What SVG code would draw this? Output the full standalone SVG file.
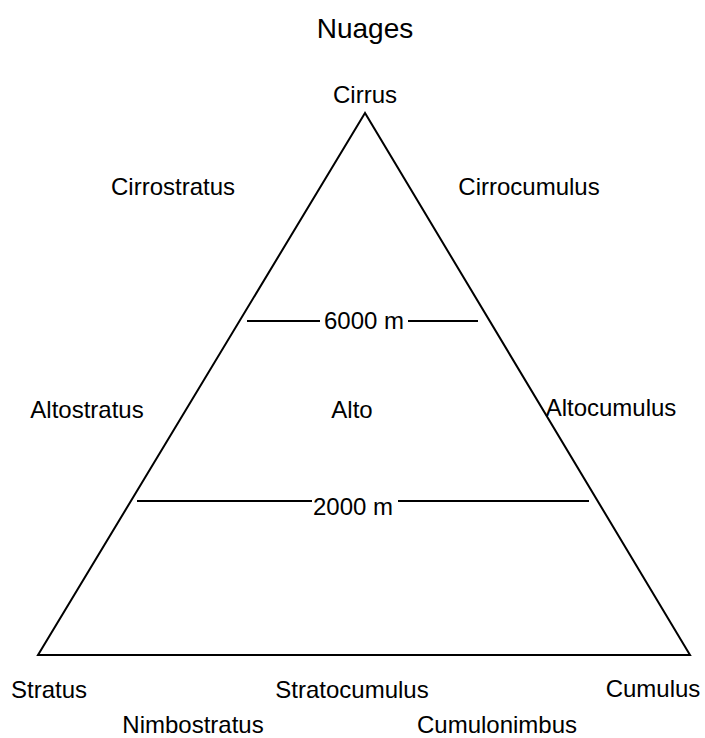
<svg xmlns="http://www.w3.org/2000/svg" width="705" height="738" viewBox="0 0 705 738">
<style>
text{font-family:"Liberation Sans",Arial,sans-serif;font-size:24px;fill:#000;text-anchor:middle}
.t{font-size:28px}
.ln{stroke:#000;stroke-width:2;fill:none}
</style>
<rect width="705" height="738" fill="#fff"/>
<text class="t" x="365" y="38">Nuages</text>
<g id="triangle"><polygon class="ln" points="365,113 38,655 690,655"/></g>
<g id="connectors">
<line class="ln" x1="247" y1="321" x2="478" y2="321"/>
<line class="ln" x1="137" y1="501" x2="589" y2="501"/>
</g>
<g id="lbl6000"><rect x="320" y="309" width="88" height="26" fill="#fff"/><text x="364" y="329">6000 m</text></g>
<g id="lbl2000"><rect x="312" y="489" width="86" height="26" fill="#fff"/><text x="353" y="515">2000 m</text></g>
<g id="cirrus"><text x="365" y="103">Cirrus</text></g>
<g id="cirrostratus"><text x="173" y="195">Cirrostratus</text></g>
<g id="cirrocumulus"><text x="529" y="195">Cirrocumulus</text></g>
<g id="altostratus"><text x="87" y="418">Altostratus</text></g>
<g id="alto"><text x="352" y="418">Alto</text></g>
<g id="altocumulus"><text x="611" y="416">Altocumulus</text></g>
<g id="stratus"><text x="49" y="698">Stratus</text></g>
<g id="stratocumulus"><text x="352" y="698">Stratocumulus</text></g>
<g id="cumulus"><text x="653" y="697">Cumulus</text></g>
<g id="nimbostratus"><text x="193" y="733">Nimbostratus</text></g>
<g id="cumulonimbus"><text x="497" y="733">Cumulonimbus</text></g>
</svg>
